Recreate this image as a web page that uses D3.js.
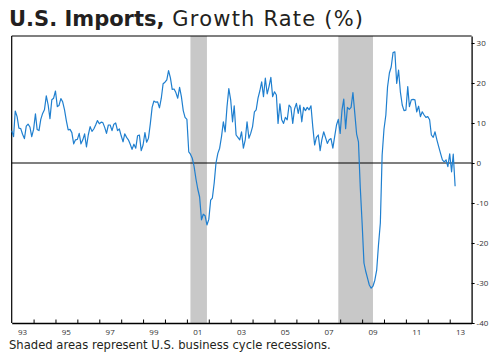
<!DOCTYPE html>
<html><head><meta charset="utf-8">
<script src="https://cdn.jsdelivr.net/npm/d3@7"></script>
<style>body{margin:0;background:#fff}</style>
</head><body>
<svg id="c" width="495" height="360"></svg>
<script>
const startYear = 1993;
const values = [
 8.1, 6.6, 13.0, 11.6, 8.7, 8.6, 7.2, 6.1, 9.2, 9.7, 9.0, 6.6,
 8.4, 12.3, 8.4, 8.1, 10.9, 12.4, 13.3, 16.8, 14.5, 11.1, 15.8, 16.2,
 18.0, 14.1, 14.4, 16.1, 15.3, 13.3, 10.6, 8.3, 8.4, 7.6, 4.8, 5.8,
 5.9, 7.4, 4.8, 5.8, 7.3, 4.0, 7.0, 9.1, 7.9, 8.5, 9.5, 10.6,
 9.8, 10.2, 10.1, 8.9, 7.4, 9.5, 9.5, 8.1, 9.7, 10.0, 8.1, 8.5,
 6.8, 5.3, 7.3, 6.4, 5.8, 4.7, 3.4, 4.7, 3.7, 6.8, 7.0, 3.1,
 4.5, 7.6, 5.2, 6.2, 9.7, 13.9, 15.5, 15.2, 15.3, 13.8, 16.2, 19.8,
 20.2, 20.8, 23.1, 21.3, 18.4, 18.5, 17.6, 16.2, 18.9, 16.6, 13.1, 11.4,
 10.9, 2.8, 2.2, 1.2, -0.9, -4.0, -6.5, -8.5, -14.2, -12.8, -13.2, -15.5,
 -14.1, -9.3, -8.8, -5.0, 0.0, 2.4, 3.7, 6.6, 10.3, 7.8, 14.1, 18.6,
 15.8, 10.3, 14.3, 7.0, 6.4, 5.8, 7.8, 3.7, 5.8, 10.3, 6.2, 7.4,
 9.1, 12.8, 13.3, 16.2, 18.0, 20.3, 16.6, 21.2, 17.3, 19.1, 21.4, 16.6,
 17.8, 17.0, 9.9, 14.8, 10.8, 9.9, 11.4, 10.8, 14.5, 13.9, 9.9, 13.5,
 14.9, 12.4, 14.5, 10.3, 13.9, 13.1, 13.9, 13.3, 14.3, 9.1, 4.5, 6.4,
 7.0, 3.1, 5.8, 7.8, 6.4, 4.9, 5.8, 6.1, 3.7, 6.6, 9.5, 10.9,
 7.4, 13.3, 16.0, 8.6, 13.9, 13.4, 13.9, 17.6, 12.4, 7.3, 5.3, -6.0,
 -15.0, -25.0, -27.0, -28.8, -30.5, -31.3, -30.8, -29.3, -26.8, -20.5, -15.0, 2.0,
 8.5, 12.0, 19.0, 22.5, 24.0, 27.6, 27.8, 19.9, 23.2, 17.8, 14.5, 13.1,
 13.2, 19.1, 14.1, 15.8, 15.9, 15.8, 12.8, 14.2, 11.6, 12.8, 12.0, 11.4,
 11.6, 10.8, 7.0, 6.4, 7.8, 5.8, 4.1, 2.4, 0.8, 0.3, 0.8, -0.9,
 2.3, -2.2, 2.2, -5.8
];
const recessions = [["2001-03-01","2001-12-01"],["2007-12-01","2009-07-01"]];
const yTicks = [30, 20, 10, 0, -10, -20, -30, -40];
const xLabelYears = [1993,1995,1997,1999,2001,2003,2005,2007,2009,2011,2013];

const data = values.map((v,i)=>({date:new Date(startYear, i, 1), value:v}));
const svg = d3.select("#c");
const L = 11.7, R = 471.6, T = 36, B = 323;
const x = d3.scaleTime().domain([new Date(1993,0,1), new Date(2014,0,1)]).range([L, R]);
const y = d3.scaleLinear().domain([-40, 31.75]).range([B, T]);

svg.append("g").selectAll("rect").data(recessions).join("rect")
  .attr("x", d=>x(new Date(d[0]))).attr("width", d=>x(new Date(d[1]))-x(new Date(d[0])))
  .attr("y", T).attr("height", B-T).attr("fill", "#c8c8c8");

svg.append("line").attr("x1",L).attr("x2",R).attr("y1",T).attr("y2",T).attr("stroke","#000").attr("stroke-width",1.2);
svg.append("line").attr("x1",L).attr("x2",L).attr("y1",T).attr("y2",B).attr("stroke","#000").attr("stroke-width",1.2);

svg.append("line").attr("x1",L).attr("x2",R).attr("y1",y(0)).attr("y2",y(0)).attr("stroke","#000").attr("stroke-width",1.1);

svg.append("path").datum(data)
  .attr("d", d3.line().x(d=>x(d.date)).y(d=>y(d.value)))
  .attr("fill","none").attr("stroke","#1f7fcf").attr("stroke-width",1.2).attr("stroke-linejoin","round");

const xAxis = d3.axisBottom(x)
  .tickValues(d3.range(1994, 2014).map(yr=>new Date(yr,0,1)))
  .tickSizeInner(-3.5).tickSizeOuter(0).tickFormat("");
const gx = svg.append("g").attr("transform",`translate(0,${B})`).call(xAxis);
gx.select(".domain").attr("stroke","#000").attr("stroke-width",1.3);
gx.selectAll(".tick line").attr("stroke","#000");
svg.append("g").selectAll("text").data(xLabelYears).join("text")
  .attr("x", d=>x(new Date(d,6,1))).attr("y", 335)
  .attr("text-anchor","middle").attr("font-family","Open Sans, sans-serif").attr("font-size",8).attr("fill","#333")
  .text(d=>String(d%100).padStart(2,"0"));

const yAxis = d3.axisRight(y).tickValues(yTicks).tickSize(3).tickSizeOuter(0).tickPadding(2)
  .tickFormat(d=>d<0?"-"+Math.abs(d):d);
const gy = svg.append("g").attr("transform",`translate(${R},0)`).call(yAxis);
gy.select(".domain").attr("stroke","#000").attr("stroke-width",1.3);
gy.selectAll(".tick line").attr("stroke","#000");
gy.selectAll("text").attr("font-family","Open Sans, sans-serif").attr("font-size",8).attr("fill","#333");

const title = svg.append("text").attr("x",9).attr("y",26).attr("font-family","DejaVu Sans, sans-serif").attr("font-size",21).attr("fill","#231f20");
title.append("tspan").attr("font-weight","bold").text("U.S. Imports,");
title.append("tspan").attr("font-weight","normal").attr("letter-spacing",1.2).text(" Growth Rate (%)");

svg.append("text").attr("x",9).attr("y",349).attr("font-family","DejaVu Sans, sans-serif").attr("font-size",11.6).attr("fill","#231f20")
  .text("Shaded areas represent U.S. business cycle recessions.");
</script>
</body></html>
